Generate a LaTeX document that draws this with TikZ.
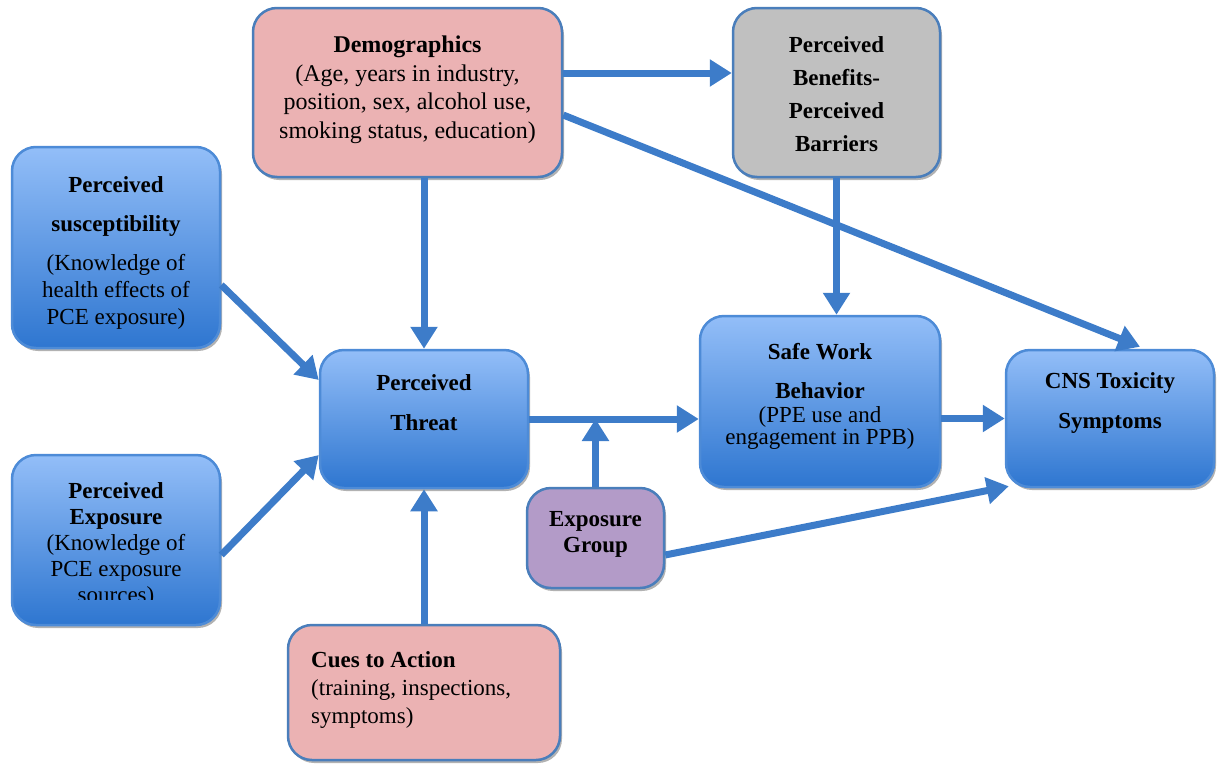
\documentclass[tikz,border=0pt]{standalone}
\usepackage{fontspec}
\setmainfont{Liberation Serif}
\usetikzlibrary{arrows.meta,shadows,calc}
\definecolor{bord}{HTML}{4A7EBB}
\definecolor{pinkf}{HTML}{EBB2B3}
\definecolor{grayf}{HTML}{C0C0C0}
\definecolor{purpf}{HTML}{B39BC8}
\definecolor{bluetop}{HTML}{93BEF8}
\definecolor{bluebot}{HTML}{2E76D0}
\definecolor{arrc}{HTML}{3D7CC9}
\tikzset{
  box/.style={draw=bord, line width=2.5pt, rounded corners=24pt, inner sep=0pt,
    drop shadow={shadow xshift=2pt, shadow yshift=-3pt, opacity=0.3, fill=black}},
  pinkbox/.style={box, fill=pinkf},
  graybox/.style={box, fill=grayf},
  purpbox/.style={box, fill=purpf},
  bluebox/.style={box, draw=bluebot!85!white, top color=bluetop, bottom color=bluebot},
  txt/.style={align=center, inner sep=0pt, font=\fontsize{23}{28}\selectfont},
  arr/.style={draw=arrc, line width=7pt, -{Triangle[width=26pt,length=22pt]}},
}
\begin{document}
\begin{tikzpicture}[x=1pt,y=-1pt]
\useasboundingbox (0,0) rectangle (1217,763);
% boxes
\node[pinkbox, minimum width=309pt, minimum height=169pt] (demo) at (407.5,92.5) {};
\node[graybox, minimum width=207pt, minimum height=169pt] (ben) at (836.5,92.5) {};
\node[bluebox, minimum width=208pt, minimum height=201pt] (sus) at (116,247.5) {};
\node[bluebox, minimum width=208pt, minimum height=138pt] (thr) at (424,419) {};
\node[bluebox, minimum width=240pt, minimum height=171pt] (swb) at (820,401.5) {};
\node[bluebox, minimum width=208pt, minimum height=137pt] (cns) at (1110,418.5) {};
\node[bluebox, minimum width=208pt, minimum height=170pt] (pexp) at (116,540) {};
\node[purpbox, minimum width=137pt, minimum height=100pt] (eg) at (595.5,538) {};
\node[pinkbox, minimum width=272pt, minimum height=135pt] (cues) at (424,692.5) {};
% texts
\node[txt, font=\fontsize{24}{28.5}\selectfont] (demo-t) at (407.5,90) {\textbf{Demographics}\\(Age, years in industry,\\position, sex, alcohol use,\\smoking status, education)};
\node[txt, font=\fontsize{23}{33}\selectfont] (ben-t) at (836.5,94) {\textbf{Perceived}\\\textbf{Benefits-}\\\textbf{Perceived}\\\textbf{Barriers}};
\node[txt, font=\fontsize{23}{27}\selectfont] (sus-t) at (116,252.5) {\textbf{Perceived}\\[12pt]\textbf{susceptibility}\\[12pt](Knowledge of\\health effects of\\PCE exposure)};
\node[txt, font=\fontsize{23}{40}\selectfont\bfseries] (thr-t) at (424,403) {Perceived\\Threat};
\node[txt, font=\fontsize{23}{39}\selectfont\bfseries] (swb-t1) at (820,371) {Safe Work\\Behavior};
\node[txt, font=\fontsize{23}{20}\selectfont] (swb-t2) at (820,428) {(PPE use and\\engagement in PPB)};
\node[txt, font=\fontsize{23}{40}\selectfont\bfseries] (cns-t) at (1110,403) {CNS Toxicity\\Symptoms};
\begin{scope}
\clip (0,0) rectangle (1217,599);
\node[txt, font=\fontsize{23}{26}\selectfont] (pexp-t) at (116,545) {\textbf{Perceived}\\\textbf{Exposure}\\(Knowledge of\\PCE exposure\\sources)};
\end{scope}
\node[txt, font=\fontsize{23}{26}\selectfont\bfseries] (eg-t) at (595.5,534) {Exposure\\Group};
\node[txt, align=left, anchor=west] (cues-t) at (311,689.5) {\textbf{Cues to Action}\\(training, inspections,\\symptoms)};
% arrows
\draw[arr] ($(demo.east)+(0,-19.5)$) -- ($(ben.west)+(0,-19.5)$);
\draw[arr] ($(demo.east)+(0,22.5)$) -- ($(cns.north)+(30,-2)$);
\draw[arr] (thr.north |- demo.south) -- (thr.north);
\draw[arr] (ben.south) -- (ben.south |- swb.north);
\draw[arr] ($(sus.east)+(0,37.5)$) -- ($(thr.west)+(0,-39)$);
\draw[arr] ($(pexp.east)+(0,15)$) -- ($(thr.west)+(0,36)$);
\draw[arr] (cues.north) -- (thr.south);
\draw[arr] (thr.east) -- (thr.east -| swb.west);
\draw[arr] (eg.north) -- (eg.north |- thr.east);
\draw[arr] (cns.west -| swb.east) -- (cns.west);
\draw[arr] ($(eg.east)+(0,17)$) -- ($(cns.south west)+(4,-2)$);
\end{tikzpicture}
\end{document}
